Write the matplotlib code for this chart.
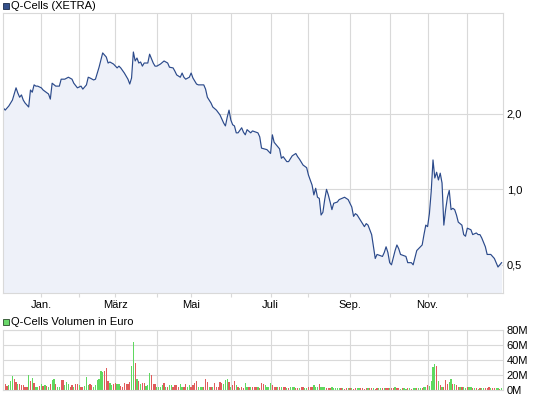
import matplotlib
matplotlib.use('Agg')
import matplotlib.pyplot as plt
from matplotlib.patches import Rectangle
from matplotlib.ticker import NullLocator

plt.rcParams['font.family'] = ['Liberation Sans', 'DejaVu Sans']

# trading-day index (0 = early Dec 2010) and closing price in EUR
price_day = [0, 1, 3, 5, 7, 8, 9, 10, 11, 12, 14, 15, 16, 17, 18, 19, 21, 22, 25, 26,
             27, 29, 31, 32, 34, 36, 38, 39, 41, 43, 44, 46, 47, 48, 50, 51, 52, 53, 55, 57,
             58, 59, 61, 63, 64, 65, 67, 69, 70, 71, 72, 73, 74, 75, 76, 77, 78, 80, 81, 83,
             84, 85, 87, 89, 91, 92, 94, 95, 96, 98, 99, 100, 101, 103, 104, 105, 107, 108, 111, 112,
             113, 115, 116, 118, 120, 122, 123, 124, 125, 126, 127, 128, 129, 130, 132, 133, 134, 135, 137, 138,
             141, 142, 143, 146, 148, 149, 150, 152, 153, 154, 155, 157, 158, 160, 162, 163, 164, 166, 168, 169,
             171, 172, 173, 174, 175, 176, 177, 178, 179, 180, 181, 182, 183, 185, 186, 189, 190, 191, 193, 194,
             195, 196, 199, 200, 201, 202, 204, 205, 206, 207, 210, 211, 212, 213, 214, 215, 217, 218, 219, 220,
             223, 224, 226, 227, 229, 230, 232, 233, 234, 235, 236, 237, 238, 239, 240, 241, 242, 243, 244, 245,
             246, 247, 248, 249, 250, 251, 252, 254, 255, 256, 257, 259, 260, 262, 263, 264, 265, 267, 268, 270,
             271, 272, 273, 274, 275, 276]
price = [2.11, 2.07, 2.15, 2.27, 2.54, 2.42, 2.33, 2.38, 2.27, 2.21, 2.13, 2.49, 2.44, 2.61, 2.58, 2.58, 2.54, 2.49, 2.40, 2.29,
         2.65, 2.58, 2.58, 2.75, 2.75, 2.80, 2.75, 2.65, 2.54, 2.58, 2.51, 2.61, 2.80, 2.78, 2.73, 2.75, 2.91, 3.07, 3.50, 3.37,
         3.19, 3.22, 3.16, 3.05, 3.10, 3.05, 2.91, 2.75, 2.63, 2.78, 3.53, 3.25, 3.34, 3.19, 3.22, 3.10, 3.19, 3.19, 3.46, 3.19,
         3.10, 3.10, 3.16, 3.25, 3.19, 3.07, 3.05, 2.96, 2.86, 2.80, 2.91, 2.80, 2.75, 2.80, 2.91, 2.78, 2.63, 2.61, 2.61, 2.51,
         2.33, 2.21, 2.13, 2.07, 1.98, 1.84, 1.79, 1.94, 2.07, 1.89, 1.81, 1.79, 1.68, 1.68, 1.76, 1.69, 1.65, 1.73, 1.68, 1.71,
         1.68, 1.62, 1.46, 1.44, 1.39, 1.65, 1.54, 1.48, 1.45, 1.33, 1.35, 1.29, 1.29, 1.36, 1.39, 1.35, 1.32, 1.25, 1.22, 1.14,
         1.04, 0.95, 1.01, 0.93, 0.92, 0.79, 0.81, 0.91, 1.00, 0.95, 0.89, 0.83, 0.88, 0.89, 0.91, 0.93, 0.92, 0.91, 0.85, 0.78,
         0.80, 0.79, 0.73, 0.71, 0.73, 0.72, 0.66, 0.59, 0.53, 0.55, 0.54, 0.56, 0.59, 0.56, 0.51, 0.50, 0.57, 0.60, 0.58, 0.55,
         0.54, 0.51, 0.51, 0.50, 0.57, 0.58, 0.60, 0.66, 0.72, 0.71, 0.80, 0.98, 1.31, 1.11, 1.17, 1.09, 1.16, 1.06, 0.72, 0.83,
         0.93, 0.99, 0.83, 0.84, 0.83, 0.79, 0.74, 0.72, 0.66, 0.65, 0.70, 0.69, 0.66, 0.67, 0.66, 0.66, 0.64, 0.59, 0.55, 0.55,
         0.54, 0.53, 0.51, 0.49, 0.50, 0.51]

# daily turnover in million EUR, one bar per trading day (0..276)
volume = [7, 7, 5, 6, 11, 18, 14, 10, 7, 7, 6, 6, 3, 4, 19, 11, 15, 9, 4, 3,
          5, 7, 5, 6, 5, 4, 7, 13, 14, 7, 4, 4, 13, 13, 6, 10, 7, 4, 6, 3,
          7, 7, 6, 3, 3, 5, 17, 6, 7, 6, 4, 6, 13, 14, 25, 23, 25, 29, 11, 9,
          6, 8, 9, 7, 7, 5, 4, 9, 7, 7, 10, 32, 64, 36, 14, 11,
          7, 9, 9, 5, 6, 22, 20, 7, 7, 4, 4, 3, 6, 9, 4, 3, 6, 6, 4, 6,
          6, 4, 7, 4, 4, 7, 3, 6, 4, 6, 9, 11, 3, 4, 4, 3, 14, 10, 4, 3,
          4, 9, 4, 4, 10, 9, 8, 13, 14, 10, 3, 6, 11, 6, 4, 2, 3, 2, 9, 4,
          4, 3, 3, 3, 4, 3, 2, 9, 7, 6, 4, 4, 9, 6,
          3, 3, 3, 4, 3, 4, 3, 2, 2, 3, 3, 3, 2, 2, 2, 3, 3, 2, 2, 3,
          3, 3, 6, 3, 3, 7,
          4, 4, 3, 2, 2, 2, 3, 2, 2, 2, 2, 2, 2, 1, 2, 2, 2, 2, 1, 2,
          2, 2, 2, 2, 1, 2, 2, 2, 2, 2, 1, 2, 2, 2, 2, 2, 2, 2, 2, 2,
          2, 3, 2, 2, 1, 2, 2,
          1, 2, 2, 1, 2, 2, 2, 2, 2, 2,
          3, 4, 6, 5, 11, 30, 34, 32, 11, 6, 4, 4, 13, 7, 10, 14, 7, 8, 6, 3,
          3, 3, 3, 2, 4, 3, 4, 2,
          2, 2, 1, 2, 2, 2, 2, 2, 3, 2, 2, 2, 2, 2, 1, 2]
# g = closing up, r = closing down
volume_dir = ("grrgggrrgr" "rrrrgrgrgg" "rgrgrgrggr" "ggrrgggrrg" "rrgrrgggrr"
              "ggggggrrrg" "grrggrrrrr" "rggrgr"
              "grrgggrrrg" "gggrgrggrr" "rrggrrggrr" "rrgggrrrgr" "grrrrrgggr"
              "grrgrgrrgg" "rgrrrgrrrg" "gggr"
              "rrgrgrrgrg" "ggrrgrrggr" "rrgggr"
              "gggrrrgggg" "grgrrgrgrr" "ggrrrrgrrg" "rrggrgrrgr" "rgrrgrg"
              "grgrggrggr"
              "ggrggggrgr" "grrrggrgrr" "grggrggr"
              "grgrggrrrg" "rrggrg")

n_days = len(volume)
month_start = [21, 42, 62, 85, 104, 126, 148, 169, 192, 214, 235, 257]
month_label = ['Jan.', '', 'März', '', 'Mai', '', 'Juli', '', 'Sep.', '', 'Nov.', '']

LINE = '#2b4a8b'
FILL = '#eef1f9'
GRID = '#d9d9d9'
UP = '#5fd85f'
DOWN = '#e05c5c'

W, H = 545, 398
fig = plt.figure(figsize=(W / 100, H / 100), dpi=100)


def box(l, t, r, b):
    return [l / W, 1 - b / H, (r - l) / W, (b - t) / H]


ax = fig.add_axes(box(2.5, 13, 502.5, 293))
axv = fig.add_axes(box(2.5, 330, 502.5, 389.5))

# price panel
ax.set_yscale('log')
ax.set_ylim(0.386, 5.05)
ax.set_xlim(-0.5, n_days - 0.5)
ax.fill_between(price_day, price, 0.386, color=FILL, lw=0)
ax.plot(price_day, price, color=LINE, lw=0.85)
ax.set_yticks([0.5, 1.0, 2.0])
ax.set_yticklabels(['0,5', '1,0', '2,0'])
ax.yaxis.set_minor_locator(NullLocator())
ax.yaxis.tick_right()
ax.set_xticks(month_start)
ax.set_xticklabels(month_label)
ax.tick_params(axis='x', length=3, color=GRID, pad=2, labelsize=8)
ax.tick_params(axis='y', length=0, pad=3, labelsize=8)
ax.grid(True, color=GRID, lw=0.8)
ax.set_axisbelow(True)
for s in ax.spines.values():
    s.set_color(GRID)

# volume panel
bar_colors = [UP if c == 'g' else DOWN for c in volume_dir]
axv.bar(range(n_days), volume, width=0.7, color=bar_colors, lw=0)
axv.set_xlim(-0.5, n_days - 0.5)
axv.set_ylim(0, 80)
axv.set_yticks([0, 20, 40, 60, 80])
axv.set_yticklabels(['0M', '20M', '40M', '60M', '80M'])
axv.yaxis.tick_right()
axv.set_xticks(month_start)
axv.set_xticklabels([])
axv.tick_params(axis='x', length=0)
axv.tick_params(axis='y', length=0, pad=3, labelsize=8)
axv.grid(True, color=GRID, lw=0.8)
axv.set_axisbelow(True)
for s in axv.spines.values():
    s.set_color(GRID)

# legends
fig.patches.append(Rectangle((3 / W, 1 - 9 / H), 6 / W, 6 / H, transform=fig.transFigure,
                             facecolor='#34508a', edgecolor='#1a2a4a', lw=0.6))
fig.text(11 / W, 1 - 6 / H, 'Q-Cells (XETRA)', fontsize=8, va='center')
fig.patches.append(Rectangle((3 / W, 1 - 325 / H), 6 / W, 6 / H, transform=fig.transFigure,
                             facecolor='#6ad86a', edgecolor='#2a4a2a', lw=0.6))
fig.text(11 / W, 1 - 322 / H, 'Q-Cells Volumen in Euro', fontsize=8, va='center')

fig.savefig('out.png', dpi=100)
